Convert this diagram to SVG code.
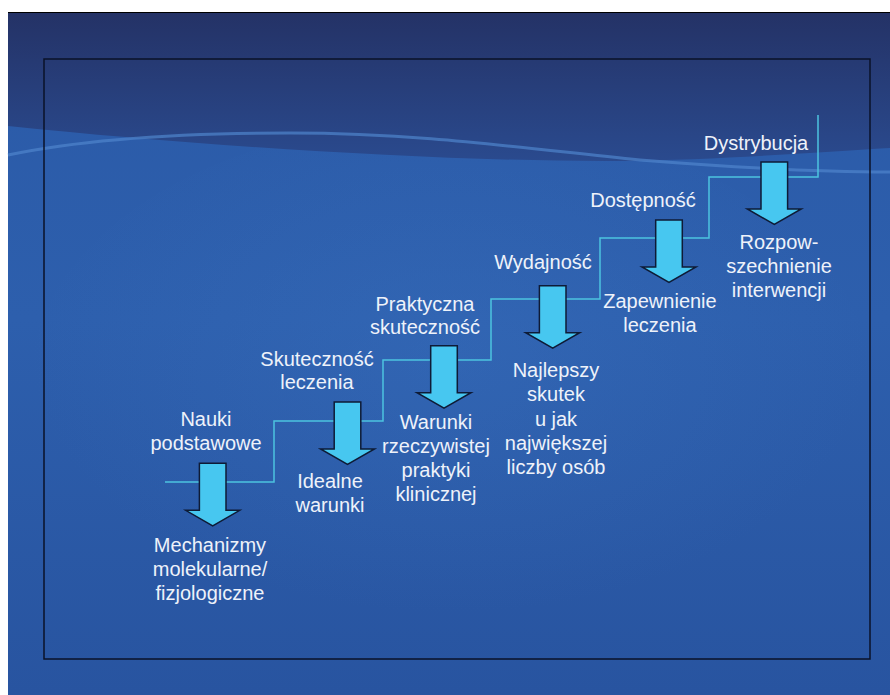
<svg xmlns="http://www.w3.org/2000/svg" width="890" height="695" viewBox="0 0 890 695">
  <defs>
    <linearGradient id="bgLow" x1="0" y1="0" x2="0" y2="1">
      <stop offset="0" stop-color="#2b5aa7"/>
      <stop offset="0.45" stop-color="#2d5fad"/>
      <stop offset="1" stop-color="#2854a0"/>
    </linearGradient>
    <linearGradient id="bgTop" x1="0" y1="0" x2="0" y2="1">
      <stop offset="0" stop-color="#243266"/>
      <stop offset="1" stop-color="#2a4a8e"/>
    </linearGradient>
    <radialGradient id="glow" cx="0.5" cy="0.45" r="0.5">
      <stop offset="0" stop-color="#3a72c0" stop-opacity="0.35"/>
      <stop offset="1" stop-color="#3a72c0" stop-opacity="0"/>
    </radialGradient>
    <path id="arrow" d="M-13.3,0 H13.3 V47 H27 L0,62.5 L-27,47 H-13.3 Z"/>
  </defs>
  <style>
    .lbl { font-family: "Liberation Sans", Arial, sans-serif; font-size: 20px; fill: #eef2fa; text-anchor: middle; }
    .arr { fill: #47c7f0; stroke: #0e1b36; stroke-width: 1.5; stroke-linejoin: miter; }
    .stair { fill: none; stroke: #4cc3df; stroke-width: 1.5; }
  </style>

  <!-- background -->
  <rect x="8" y="12" width="882" height="683" fill="url(#bgLow)"/>
  <ellipse cx="450" cy="380" rx="420" ry="260" fill="url(#glow)"/>
  <path d="M8,12 H890 V148 C820,152 720,160 620,161 C450,162 200,146 8,126 Z" fill="url(#bgTop)"/>
  <path d="M8,155 C80,140 180,133 290,133 C420,133 520,148 640,160 C740,168 820,172 890,172" fill="none" stroke="#4f84cc" stroke-width="3" stroke-opacity="0.7"/>
  <line x1="8" y1="12.5" x2="890" y2="12.5" stroke="#000" stroke-width="1.2"/>
  <rect x="44" y="59" width="826" height="600" fill="none" stroke="#0a1228" stroke-width="1.5"/>

  <!-- connectors -->
  <g id="connectors">
    <path class="stair" d="M165,482 H274 V421 H383 V360 H491 V299 H600 V238 H709 V177 H818 V115"/>
  </g>

  <g id="step1">
    <text class="lbl" x="206" y="426">Nauki</text>
    <text class="lbl" x="206" y="450">podstawowe</text>
    <use href="#arrow" class="arr" transform="translate(212.7,463.3)"/>
    <text class="lbl" x="210" y="552">Mechanizmy</text>
    <text class="lbl" x="210" y="576">molekularne/</text>
    <text class="lbl" x="210" y="600">fizjologiczne</text>
  </g>

  <g id="step2">
    <text class="lbl" x="317" y="366">Skuteczność</text>
    <text class="lbl" x="317" y="389">leczenia</text>
    <use href="#arrow" class="arr" transform="translate(347.5,402)"/>
    <text class="lbl" x="330" y="488">Idealne</text>
    <text class="lbl" x="330" y="512">warunki</text>
  </g>

  <g id="step3">
    <text class="lbl" x="425" y="311">Praktyczna</text>
    <text class="lbl" x="425" y="334">skuteczność</text>
    <use href="#arrow" class="arr" transform="translate(444,345.7)"/>
    <text class="lbl" x="436" y="429">Warunki</text>
    <text class="lbl" x="436" y="453">rzeczywistej</text>
    <text class="lbl" x="436" y="477">praktyki</text>
    <text class="lbl" x="436" y="501">klinicznej</text>
  </g>

  <g id="step4">
    <text class="lbl" x="543" y="269">Wydajność</text>
    <use href="#arrow" class="arr" transform="translate(552.7,285.7)"/>
    <text class="lbl" x="556" y="377">Najlepszy</text>
    <text class="lbl" x="556" y="401">skutek</text>
    <text class="lbl" x="556" y="426">u jak</text>
    <text class="lbl" x="556" y="450">największej</text>
    <text class="lbl" x="556" y="474">liczby osób</text>
  </g>

  <g id="step5">
    <text class="lbl" x="643" y="207">Dostępność</text>
    <use href="#arrow" class="arr" transform="translate(669,220)"/>
    <text class="lbl" x="660" y="308">Zapewnienie</text>
    <text class="lbl" x="660" y="332">leczenia</text>
  </g>

  <g id="step6">
    <text class="lbl" x="756" y="150">Dystrybucja</text>
    <use href="#arrow" class="arr" transform="translate(774.3,162)"/>
    <text class="lbl" x="779" y="249">Rozpow-</text>
    <text class="lbl" x="779" y="273">szechnienie</text>
    <text class="lbl" x="779" y="297">interwencji</text>
  </g>
</svg>
